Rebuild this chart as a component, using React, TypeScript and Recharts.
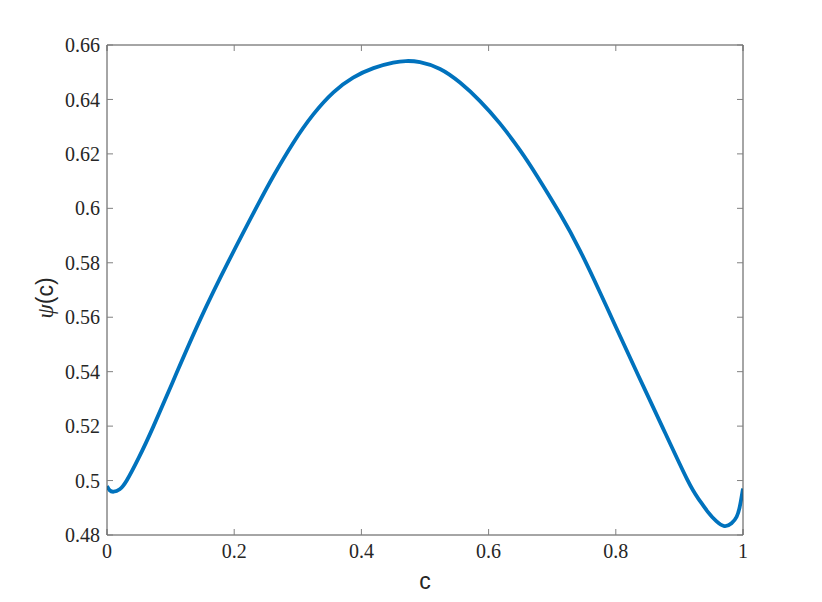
import React from 'react';
import { LineChart, Line, XAxis, YAxis, Label } from 'recharts';

// c values along the curve and psi(c)
const cValues = [
  0, 0.004, 0.0105, 0.02, 0.031, 0.05, 0.073, 0.109, 0.147, 0.191, 0.236, 0.2615, 0.293, 0.3244,
  0.356, 0.387, 0.419, 0.45, 0.47, 0.492, 0.5236, 0.555, 0.5865, 0.618, 0.649, 0.6756, 0.7123,
  0.7437, 0.775, 0.8003, 0.835, 0.8726, 0.912, 0.93, 0.945, 0.958, 0.9706, 0.982, 0.99, 0.995, 1,
];
const psiValues = [
  0.498, 0.4965, 0.4959, 0.4968, 0.5, 0.5084, 0.5199, 0.5393, 0.5594, 0.5805, 0.6008, 0.6118,
  0.6241, 0.6345, 0.6426, 0.648, 0.6515, 0.6535, 0.6541, 0.6537, 0.6512, 0.6462, 0.6394, 0.6311,
  0.6215, 0.6121, 0.598, 0.5845, 0.5692, 0.5563, 0.5388, 0.52, 0.5005, 0.4933, 0.4884, 0.4851,
  0.4833, 0.4843, 0.4867, 0.4905, 0.4971,
];

const xTicks = [0, 0.2, 0.4, 0.6, 0.8, 1];
const yTicks = [0.48, 0.5, 0.52, 0.54, 0.56, 0.58, 0.6, 0.62, 0.64, 0.66];

const data = cValues.map((c, i) => ({ c, psi: psiValues[i] }));

const AXIS = '#4d4d4d';
const TICK = '#808080';
const TEXT = '#262626';
const tickFont = { fill: TEXT, fontSize: 20, fontFamily: '"Liberation Serif", serif' };
const noLabel = () => <g />;

export default function App() {
  return (
    <LineChart
      width={806}
      height={586}
      data={data}
      margin={{ top: 36, right: 70, bottom: 0, left: 0 }}
      style={{ background: '#fff' }}
    >
      <XAxis
        dataKey="c"
        type="number"
        domain={[0, 1]}
        ticks={xTicks}
        allowDataOverflow
        height={59}
        tickSize={-6}
        tickMargin={15}
        tick={tickFont}
        tickFormatter={(v: number) => String(v)}
        stroke={AXIS}
        tickLine={{ stroke: TICK }}
      >
        <Label
          content={() => (
            <text
              x={417}
              y={581}
              textAnchor="middle"
              fill={TEXT}
              fontSize={23}
              fontFamily='"Liberation Sans", Arial, sans-serif'
            >
              c
            </text>
          )}
        />
      </XAxis>
      {/* box: top and right axes with inward ticks, no labels (size 1, zero would not draw) */}
      <XAxis
        xAxisId="top"
        dataKey="c"
        orientation="top"
        type="number"
        domain={[0, 1]}
        ticks={xTicks}
        allowDataOverflow
        height={1}
        tickSize={-6}
        tick={noLabel}
        stroke={AXIS}
        tickLine={{ stroke: TICK }}
      />
      <YAxis
        type="number"
        domain={[0.48, 0.66]}
        ticks={yTicks}
        allowDataOverflow
        width={99}
        tickSize={-6}
        tickMargin={13}
        tick={tickFont}
        tickFormatter={(v: number) => String(v)}
        stroke={AXIS}
        tickLine={{ stroke: TICK }}
      >
        <Label
          content={() => (
            <text
              x={45}
              y={290}
              transform="rotate(-90, 45, 290)"
              textAnchor="middle"
              fill={TEXT}
              fontSize={23}
            >
              <tspan fontFamily='"Liberation Serif", serif' fontStyle="italic">ψ</tspan>
              <tspan fontFamily='"Liberation Sans", Arial, sans-serif'>(c)</tspan>
            </text>
          )}
        />
      </YAxis>
      <YAxis
        yAxisId="right"
        orientation="right"
        type="number"
        domain={[0.48, 0.66]}
        ticks={yTicks}
        allowDataOverflow
        width={1}
        tickSize={-6}
        tick={noLabel}
        stroke={AXIS}
        tickLine={{ stroke: TICK }}
      />
      <Line
        xAxisId="top"
        yAxisId="right"
        dataKey="psi"
        stroke="none"
        dot={false}
        activeDot={false}
        legendType="none"
        isAnimationActive={false}
      />
      <Line
        type="natural"
        dataKey="psi"
        stroke="#0072BD"
        strokeWidth={3.8}
        dot={false}
        isAnimationActive={false}
      />
    </LineChart>
  );
}
